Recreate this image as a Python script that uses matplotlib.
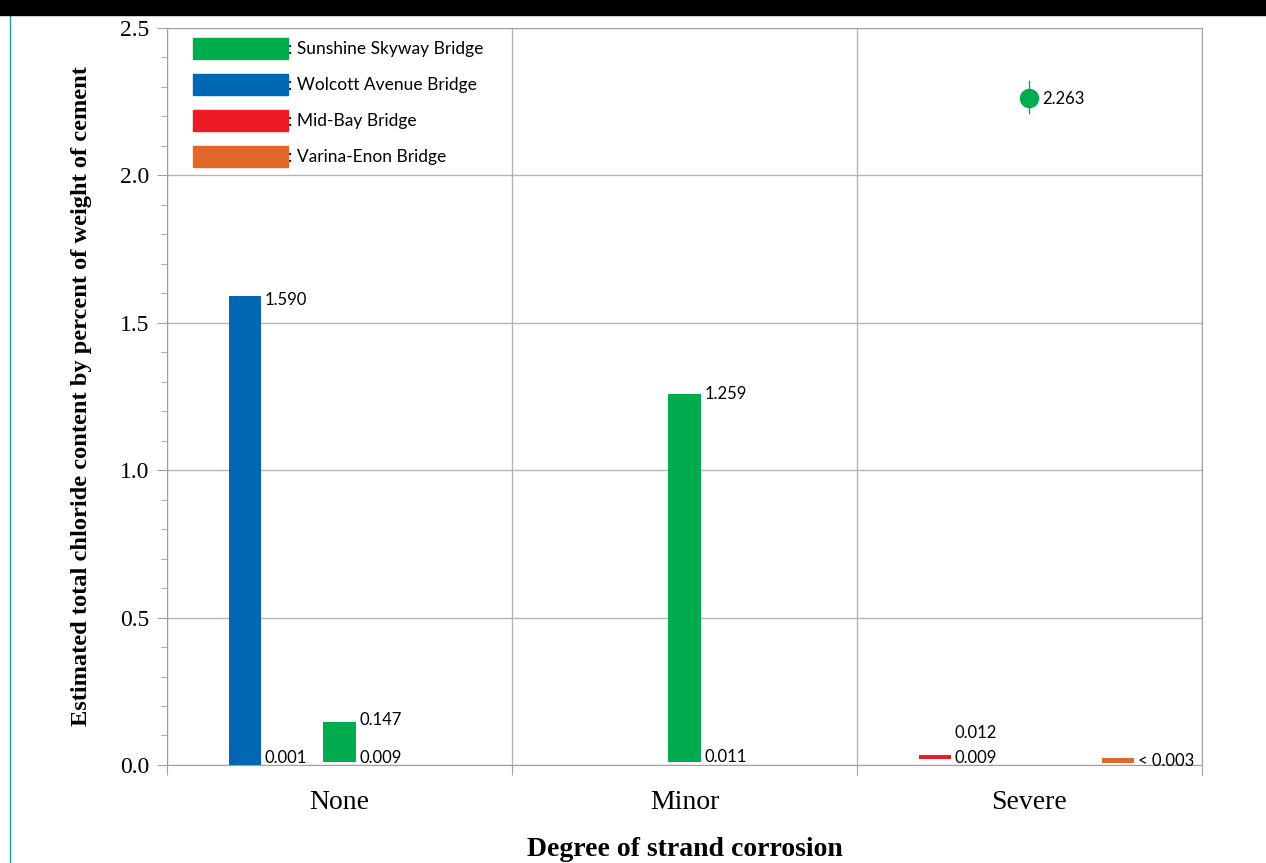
import numpy as np
import matplotlib.pyplot as plt
from matplotlib.patches import Patch, Rectangle
from matplotlib.lines import Line2D

# Datos
categorias = ['None', 'Minor', 'Severe']
series = ['Sunshine Skyway Bridge', 'Wolcott Avenue Bridge', 'Mid-Bay Bridge', 'Varina-Enon Bridge']
colores = ['#00AC4E', '#0068B3', '#ED1C24', '#E2682A']

# barras flotantes (min, max) por puente
wolcott_min = [0.001]
wolcott_max = [1.590]
sunshine_min = [0.009, 0.011]
sunshine_max = [0.147, 1.259]
sunshine_severo = 2.263
sunshine_severo_rango = [2.21, 2.32]
midbay_min = [0.020]
midbay_max = [0.035]
midbay_etiquetas = ['0.012', '0.009']
varina_min = [0.007]
varina_max = [0.024]
varina_etiqueta = '< 0.003'

fig = plt.figure(figsize=(12.66, 8.63), dpi=100)
ax = fig.add_axes([0.1319, 0.1136, 0.8175, 0.854])

ancho = 0.093
desp = 0.275
fuente_val = 'Lato'
tam_val = 12

def barra(x, lo, hi, color):
    ax.bar(x, hi - lo, bottom=lo, width=ancho, color=color, zorder=3)

# None
barra(0.5 - desp, wolcott_min[0], wolcott_max[0], colores[1])
barra(0.5, sunshine_min[0], sunshine_max[0], colores[0])
# Minor
barra(1.5, sunshine_min[1], sunshine_max[1], colores[0])
# Severe
barra(2.5 - desp, midbay_min[0], midbay_max[0], colores[2])
barra(2.5 + desp * 0.93, varina_min[0], varina_max[0], colores[3])
ax.plot([2.5, 2.5], sunshine_severo_rango, color=colores[0], lw=1, zorder=3)
ax.plot(2.5, sunshine_severo, 'o', color=colores[0], ms=13, zorder=4)

def etiqueta(x, y, txt, dy=0, va='center'):
    ax.annotate(txt, (x + ancho / 2, y), xytext=(3, dy), textcoords='offset points',
                fontsize=tam_val, family=fuente_val, va=va, ha='left', zorder=5)

etiqueta(0.5 - desp, wolcott_max[0], '%.3f' % wolcott_max[0], dy=-3)
etiqueta(0.5 - desp, 0, '%.3f' % wolcott_min[0], va='bottom', dy=-1)
etiqueta(0.5, sunshine_max[0], '%.3f' % sunshine_max[0], dy=1)
etiqueta(0.5, 0, '%.3f' % sunshine_min[0], va='bottom', dy=-1)
etiqueta(1.5, sunshine_max[1], '%.3f' % sunshine_max[1], dy=0)
etiqueta(1.5, 0, '%.3f' % sunshine_min[1], va='bottom', dy=0)
etiqueta(2.5 - desp, 0, midbay_etiquetas[0], va='bottom', dy=17)
etiqueta(2.5 - desp, 0, midbay_etiquetas[1], va='bottom', dy=-1)
etiqueta(2.5 + desp * 0.93, 0, varina_etiqueta, va='bottom', dy=-3)
ax.annotate('%.3f' % sunshine_severo, (2.5, sunshine_severo), xytext=(9, -1),
            textcoords='offset points', fontsize=tam_val, family=fuente_val, va='center')

# ejes
ax.set_xlim(0, 3)
ax.set_ylim(0, 2.5)
ax.set_yticks(np.arange(0, 2.51, 0.5))
ax.set_yticklabels(['%.1f' % v for v in np.arange(0, 2.51, 0.5)], family='Liberation Serif', fontsize=17)
ax.set_yticks(np.arange(0, 2.51, 0.1), minor=True)
ax.set_xticks([0, 1, 2, 3])
ax.set_xticklabels([])
ax.set_xticks([0.5, 1.5, 2.5], minor=True)
ax.set_xticklabels(categorias, minor=True, family='Liberation Serif', fontsize=20)
ax.tick_params(axis='x', which='minor', length=0, pad=18)
ax.tick_params(axis='x', which='major', length=7, color='#a0a0a0')
ax.tick_params(axis='y', which='both', color='#a0a0a0')
ax.tick_params(axis='y', which='major', length=7, pad=6)
ax.tick_params(axis='y', which='minor', length=4)
ax.grid(True, which='major', color='#b4b4b4', lw=1, zorder=0)
for s in ax.spines.values():
    s.set_color('#a0a0a0')

ax.set_xlabel('Degree of strand corrosion', family='Liberation Serif', fontsize=20,
              fontweight='bold', labelpad=16)
ax.set_ylabel('Estimated total chloride content by percent of weight of cement',
              family='Liberation Serif', fontsize=17.6, fontweight='bold', labelpad=20)

# leyenda
handles = [Patch(color=c) for c in colores]
ax.legend(handles, [': ' + s for s in series], loc='upper left', bbox_to_anchor=(0.01, 1.008),
          frameon=False, handlelength=5.45, handleheight=1.5, handletextpad=0.05,
          labelspacing=0.86, prop={'family': fuente_val, 'size': 12.5})

# marco de la figura
fig.patches.append(Rectangle((0, 1 - 15 / 863), 1, 15 / 863, transform=fig.transFigure,
                             color='black', zorder=10))
fig.lines.append(Line2D([10 / 1266, 10 / 1266], [0, 1 - 15 / 863], transform=fig.transFigure,
                        color='#1aa3a3', lw=1))

fig.savefig('out.png', dpi=100)
